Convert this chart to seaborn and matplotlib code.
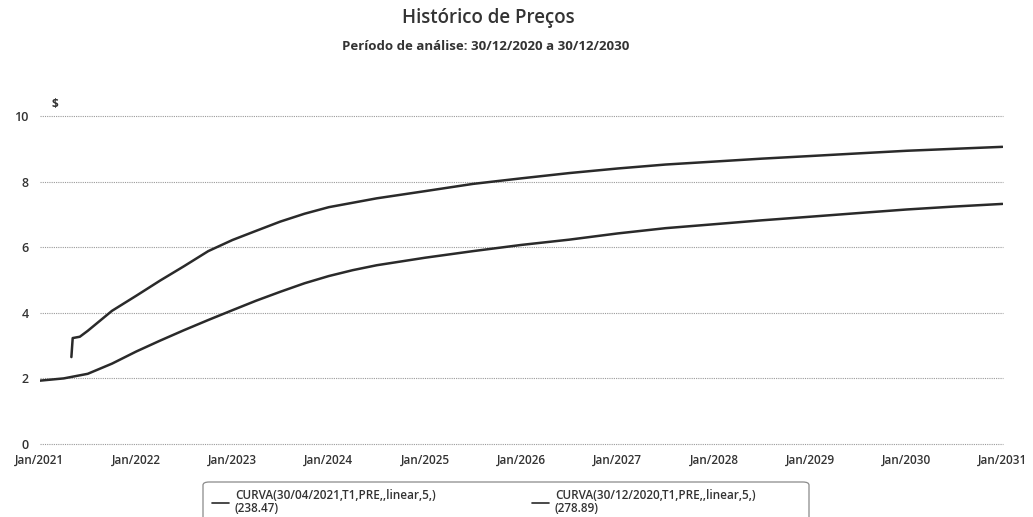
import pandas as pd
import matplotlib
matplotlib.use("Agg")
import matplotlib.pyplot as plt
import matplotlib.dates as mdates
from matplotlib.patches import FancyBboxPatch
import seaborn as sns

#   ____________________________________________________________________________
#   data                                                                    ####

curva_abr_dates = [
    "2021-04-30", "2021-05-05", "2021-06-01", "2021-07-01", "2021-10-01",
    "2022-01-01", "2022-04-01", "2022-07-01", "2022-10-01", "2023-01-01",
    "2023-04-01", "2023-07-01", "2023-10-01", "2024-01-01", "2024-07-01",
    "2025-01-01", "2025-07-01", "2026-01-01", "2026-07-01", "2027-01-01",
    "2027-07-01", "2028-01-01", "2028-07-01", "2029-01-01", "2029-07-01",
    "2030-01-01", "2030-07-01", "2030-12-30",
]
curva_abr_values = [
    2.65, 3.23, 3.27, 3.45, 4.06,
    4.52, 4.98, 5.42, 5.88, 6.22,
    6.50, 6.78, 7.02, 7.22, 7.49,
    7.71, 7.93, 8.10, 8.26, 8.40,
    8.52, 8.61, 8.70, 8.78, 8.86,
    8.94, 9.00, 9.06,
]

curva_dez_dates = [
    "2020-12-30", "2021-04-01", "2021-07-01", "2021-10-01", "2022-01-01",
    "2022-04-01", "2022-07-01", "2022-10-01", "2023-01-01", "2023-04-01",
    "2023-07-01", "2023-10-01", "2024-01-01", "2024-04-01", "2024-07-01",
    "2025-01-01", "2025-07-01", "2026-01-01", "2026-07-01", "2027-01-01",
    "2027-07-01", "2028-01-01", "2028-07-01", "2029-01-01", "2029-07-01",
    "2030-01-01", "2030-07-01", "2030-12-30",
]
curva_dez_values = [
    1.93, 2.00, 2.14, 2.45, 2.82,
    3.15, 3.47, 3.78, 4.08, 4.37,
    4.64, 4.90, 5.12, 5.30, 5.45,
    5.68, 5.88, 6.07, 6.23, 6.42,
    6.58, 6.70, 6.82, 6.93, 7.04,
    7.15, 7.24, 7.32,
]

series_labels = [
    "CURVA(30/04/2021,T1,PRE,,linear,5,)\n(238.47)",
    "CURVA(30/12/2020,T1,PRE,,linear,5,)\n(278.89)",
]
y_ticks = [0, 2, 4, 6, 8, 10]

#   ____________________________________________________________________________
#   plot                                                                    ####

W, H = 1033, 517

df = pd.concat([
    pd.DataFrame({"data": pd.to_datetime(curva_abr_dates), "preco": curva_abr_values,
                  "curva": series_labels[0]}),
    pd.DataFrame({"data": pd.to_datetime(curva_dez_dates), "preco": curva_dez_values,
                  "curva": series_labels[1]}),
])

sns.set_style("white")
plt.rcParams["font.family"] = ["Open Sans", "DejaVu Sans"]

fig = plt.figure(figsize=(W / 100, H / 100), dpi=100)
ax = fig.add_axes([40 / W, 1 - 444 / H, 963 / W, 328 / H])

sns.lineplot(data=df, x="data", y="preco", hue="curva", hue_order=series_labels,
             palette=["#2a2a2a", "#2a2a2a"], linewidth=1.8, ax=ax)

ax.set_xlim(pd.Timestamp("2021-01-01"), pd.Timestamp("2031-01-01"))
ax.set_ylim(0, 10)
ax.set_yticks(y_ticks)
ax.xaxis.set_major_locator(mdates.YearLocator())
ax.xaxis.set_major_formatter(mdates.DateFormatter("%b/%Y"))
ax.grid(axis="y", linestyle=(0, (1, 1)), color="#9a9a9a", linewidth=0.8)
ax.grid(axis="x", visible=False)
for gl in ax.get_ygridlines():
    gl.set_clip_on(False)
for s in ax.spines.values():
    s.set_visible(False)
ax.tick_params(axis="x", length=4, width=0.8, color="#9a9a9a", pad=3,
               labelsize=8.5)
ax.tick_params(axis="y", length=0, pad=8, labelsize=9)
for lab in ax.get_xticklabels() + ax.get_yticklabels():
    lab.set_fontweight("semibold")
    lab.set_color("#333333")
ax.set_xlabel("")
ax.set_ylabel("")

fig.text(55 / W, 1 - 104 / H, "$", fontsize=8.5, fontweight="bold",
         color="#333333", ha="center", va="center")
fig.text(488 / W, 1 - 18 / H, "Histórico de Preços", fontsize=13.5,
         fontweight="semibold", color="#333333", ha="center", va="center")
fig.text(486 / W, 1 - 46 / H, "Período de análise: 30/12/2020 a 30/12/2030",
         fontsize=9.5, fontweight="bold", color="#333333", ha="center", va="center")

handles, labels = ax.get_legend_handles_labels()
leg = ax.legend(handles, labels, ncol=2, loc="upper left",
                bbox_to_anchor=(203 / W, 1 - 480 / H),
                bbox_transform=fig.transFigure, frameon=False,
                fontsize=8.5, handlelength=1.4, handletextpad=0.5,
                columnspacing=8.2, borderpad=0.3, labelspacing=0.2)
for t in leg.get_texts():
    t.set_color("#333333")
    t.set_fontweight("semibold")
    t.set_linespacing(0.95)
for h in leg.get_lines():
    h.set_linewidth(1.2)

box = FancyBboxPatch((203 / W, -20 / H), 606 / W, (20 + 517 - 482) / H,
                     boxstyle="round,pad=0,rounding_size=0.006",
                     transform=fig.transFigure, facecolor="none",
                     edgecolor="#8a8a8a", linewidth=0.9)
fig.patches.append(box)

fig.savefig("out.png", dpi=100)
